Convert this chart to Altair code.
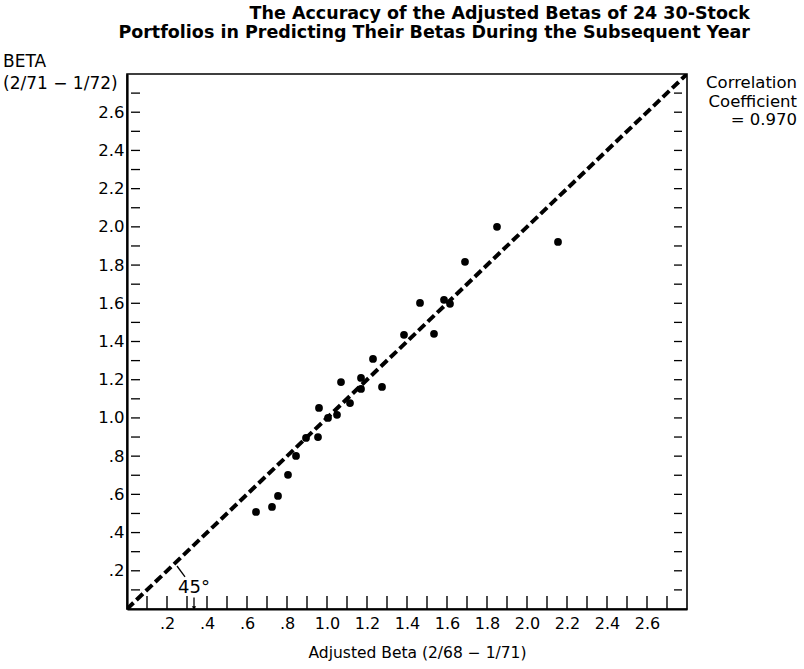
import altair as alt
import pandas as pd

# Adjusted beta (2/68 - 1/71) vs. realized beta (2/71 - 1/72) for 24 portfolios
adjusted_beta = [0.645, 0.725, 0.755, 0.805, 0.845, 0.895, 0.955, 0.960, 1.005, 1.050,
                 1.070, 1.115, 1.170, 1.170, 1.230, 1.275, 1.385, 1.465, 1.535, 1.585,
                 1.615, 1.690, 1.850, 2.155]
subsequent_beta = [0.508, 0.534, 0.592, 0.702, 0.801, 0.895, 0.900, 1.052, 1.000, 1.016,
                   1.188, 1.078, 1.209, 1.152, 1.309, 1.162, 1.435, 1.602, 1.440, 1.618,
                   1.597, 1.817, 2.000, 1.921]

label_values = [0.2, 0.4, 0.6, 0.8, 1.0, 1.2, 1.4, 1.6, 1.8, 2.0, 2.2, 2.4, 2.6]
minor_ticks = [i / 10 for i in range(1, 28)]
diag_ends = [0.0, 2.8]

W, H = 560, 535
FONT = "DejaVu Sans"
DOMAIN = [0, 2.8]

points_df = pd.DataFrame({"adj": adjusted_beta, "sub": subsequent_beta})
diag_df = pd.DataFrame({"a": diag_ends, "b": diag_ends})
ticks_df = pd.DataFrame({"t": minor_ticks})

label_expr = "datum.value < 1 ? replace(format(datum.value, '.1f'), '0.', '.') : format(datum.value, '.1f')"

xscale = alt.Scale(domain=DOMAIN, nice=False, zero=False)
yscale = alt.Scale(domain=DOMAIN, nice=False, zero=False)

x_axis = alt.Axis(values=label_values, labelExpr=label_expr, grid=False, ticks=False,
                  labelPadding=6, labelFont=FONT, labelFontSize=16, labelColor="black",
                  domainColor="black", domainWidth=2.2,
                  title="Adjusted Beta (2/68 \u2212 1/71)", titleFont=FONT,
                  titleFontSize=15.5, titleFontWeight="normal", titleColor="black",
                  titlePadding=14, titleX=290)
y_axis = alt.Axis(values=label_values, labelExpr=label_expr, grid=False, ticks=False,
                  labelPadding=3, labelFont=FONT, labelFontSize=16.5, labelColor="black",
                  domainColor="black", domainWidth=2.2, title=None)

points = alt.Chart(points_df).mark_circle(size=60, color="black", opacity=1).encode(
    x=alt.X("adj:Q", scale=xscale, axis=x_axis),
    y=alt.Y("sub:Q", scale=yscale, axis=y_axis),
)

diagonal = alt.Chart(diag_df).mark_line(
    color="black", strokeWidth=4, strokeDash=[9, 4], clip=True
).encode(x=alt.X("a:Q", scale=xscale), y=alt.Y("b:Q", scale=yscale))

# inward tick marks along the frame
left_ticks = alt.Chart(ticks_df).mark_rule(color="black", strokeWidth=1.3).encode(
    y=alt.Y("t:Q", scale=yscale), x=alt.value(4), x2=alt.value(13))
right_ticks = alt.Chart(ticks_df).mark_rule(color="black", strokeWidth=1.3).encode(
    y=alt.Y("t:Q", scale=yscale), x=alt.value(W - 13), x2=alt.value(W - 5))
bottom_ticks = alt.Chart(ticks_df).mark_rule(color="black", strokeWidth=1.4).encode(
    x=alt.X("t:Q", scale=xscale), y=alt.value(H - 13), y2=alt.value(H))

# 45-degree annotation
pointer_df = pd.DataFrame({"x": [0.25], "y": [0.225], "x2": [0.29], "y2": [0.168]})
pointer = alt.Chart(pointer_df).mark_rule(color="black", strokeWidth=1.3).encode(
    x=alt.X("x:Q", scale=xscale), y=alt.Y("y:Q", scale=yscale),
    x2="x2:Q", y2="y2:Q")
angle_df = pd.DataFrame({"x": [0.335], "y": [0.11], "label": ["45\u00b0"]})
angle_text = alt.Chart(angle_df).mark_text(
    font=FONT, fontSize=18, color="black", align="center", baseline="middle"
).encode(x=alt.X("x:Q", scale=xscale), y=alt.Y("y:Q", scale=yscale), text="label:N")
arrow_df = pd.DataFrame({"x": [0.335], "y": [0.06], "y2": [0.005]})
arrow = alt.Chart(arrow_df).mark_rule(color="black", strokeWidth=1.3).encode(
    x=alt.X("x:Q", scale=xscale), y=alt.Y("y:Q", scale=yscale), y2="y2:Q")
arrow_head = alt.Chart(arrow_df).mark_point(
    shape="triangle-down", filled=True, color="black", size=18, opacity=1
).encode(x=alt.X("x:Q", scale=xscale), y=alt.Y("y2:Q", scale=yscale))

# free text: title, y-axis caption, correlation note
text_df = pd.DataFrame({
    "label": ["The Accuracy of the Adjusted Betas of 24 30-Stock",
              "Portfolios in Predicting Their Betas During the Subsequent Year",
              "BETA", "(2/71 \u2212 1/72)",
              "Correlation", "Coefficient", "= 0.970"],
    "px": [623, 623, -124, -124, 670, 670, 670],
    "py": [-55, -36, -7, 15, 14, 32.5, 51],
    "align": ["right", "right", "left", "left", "right", "right", "right"],
    "weight": ["bold", "bold", "normal", "normal", "normal", "normal", "normal"],
})


def text_layer(sel_align, sel_weight, size):
    sub = text_df[(text_df["align"] == sel_align) & (text_df["weight"] == sel_weight)]
    return alt.Chart(sub).mark_text(
        font=FONT, fontSize=size, fontWeight=sel_weight, align=sel_align,
        baseline="alphabetic", color="black"
    ).encode(x=alt.X("px:Q", scale=None), y=alt.Y("py:Q", scale=None), text="label:N")


texts = (text_layer("right", "bold", 17.5) + text_layer("left", "normal", 17)
         + text_layer("right", "normal", 16.5))

chart = alt.layer(
    left_ticks, right_ticks, bottom_ticks, diagonal, points,
    pointer, angle_text, arrow, arrow_head, texts
).properties(
    width=W, height=H,
    padding={"left": 127, "top": 74, "right": 117, "bottom": 60},
    autosize=alt.AutoSizeParams(type="none"),
    background="white",
).configure_view(stroke="black", strokeWidth=1.6)

chart.save("out.html", embed_options={"renderer": "svg", "actions": False})
